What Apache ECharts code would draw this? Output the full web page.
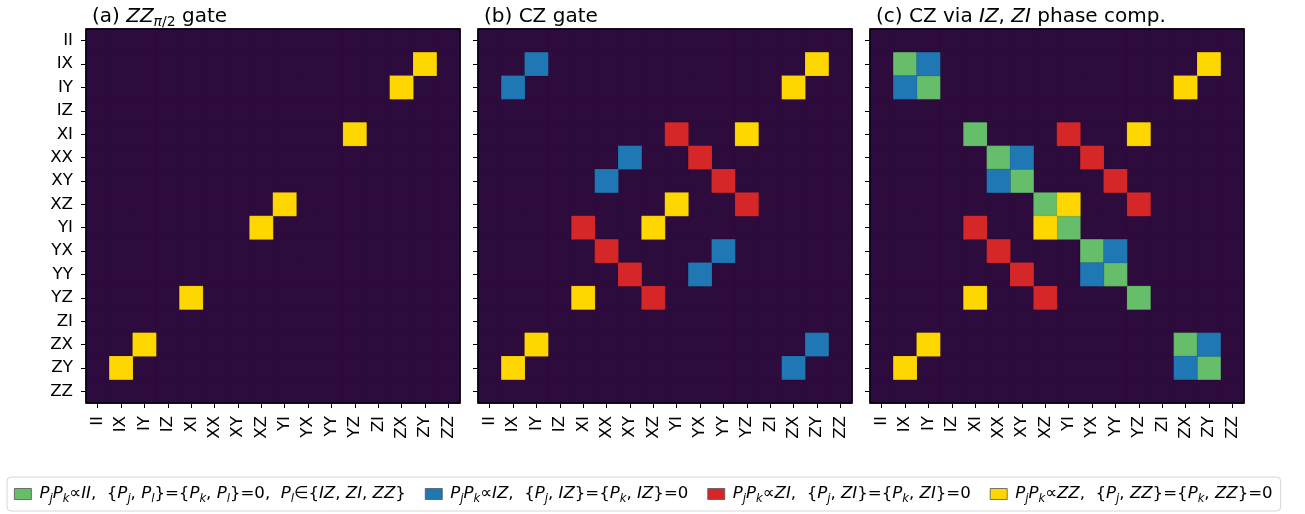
<!DOCTYPE html>
<html>
<head>
<meta charset="utf-8">
<title>Pauli transfer structure</title>
<script src="https://cdn.jsdelivr.net/npm/echarts@6/dist/echarts.min.js"></script>
<style>
  html, body { margin: 0; padding: 0; background: #fff; }
  #chart { width: 1305px; height: 514px; }
</style>
</head>
<body>
<div id="chart"></div>
<script>
// two-qubit Pauli labels, same order on both axes
var paulis = ["II", "IX", "IY", "IZ", "XI", "XX", "XY", "XZ",
              "YI", "YX", "YY", "YZ", "ZI", "ZX", "ZY", "ZZ"];

// coloured cells, [row P_j, column P_k]
var aZZ = [["IX", "ZY"], ["IY", "ZX"], ["XI", "YZ"], ["XZ", "YI"],
           ["YI", "XZ"], ["YZ", "XI"], ["ZX", "IY"], ["ZY", "IX"]];

var bIZ = [["IX", "IY"], ["IY", "IX"], ["XX", "XY"], ["XY", "XX"],
           ["YX", "YY"], ["YY", "YX"], ["ZX", "ZY"], ["ZY", "ZX"]];
var bZI = [["XI", "YI"], ["XX", "YX"], ["XY", "YY"], ["XZ", "YZ"],
           ["YI", "XI"], ["YX", "XX"], ["YY", "XY"], ["YZ", "XZ"]];
var bZZ = [["IX", "ZY"], ["IY", "ZX"], ["XI", "YZ"], ["XZ", "YI"],
           ["YI", "XZ"], ["YZ", "XI"], ["ZX", "IY"], ["ZY", "IX"]];

var cII = [["IX", "IX"], ["IY", "IY"], ["XI", "XI"], ["XX", "XX"],
           ["XY", "XY"], ["XZ", "XZ"], ["YI", "YI"], ["YX", "YX"],
           ["YY", "YY"], ["YZ", "YZ"], ["ZX", "ZX"], ["ZY", "ZY"]];
var cIZ = [["IX", "IY"], ["IY", "IX"], ["XX", "XY"], ["XY", "XX"],
           ["YX", "YY"], ["YY", "YX"], ["ZX", "ZY"], ["ZY", "ZX"]];
var cZI = [["XI", "YI"], ["XX", "YX"], ["XY", "YY"], ["XZ", "YZ"],
           ["YI", "XI"], ["YX", "XX"], ["YY", "XY"], ["YZ", "XZ"]];
var cZZ = [["IX", "ZY"], ["IY", "ZX"], ["XI", "YZ"], ["XZ", "YI"],
           ["YI", "XZ"], ["YZ", "XI"], ["ZX", "IY"], ["ZY", "IX"]];

var panels = [
  { II: [], IZ: [], ZI: [], ZZ: aZZ },
  { II: [], IZ: bIZ, ZI: bZI, ZZ: bZZ },
  { II: cII, IZ: cIZ, ZI: cZI, ZZ: cZZ }
];

var kindColors = { II: "#66bd6a", IZ: "#1f77b4", ZI: "#d62728", ZZ: "#ffd700" };
var kinds = ["II", "IZ", "ZI", "ZZ"];
var bgColor = "#2d0b3c";
var font = "DejaVu Sans";

var legendText = {
  II: "{i|P}{s|j}{i|P}{s|k}{n|∝}{i|II}{n|,  \{}{i|P}{s|j}{n|, }{i|P}{s|l}}{n|=\{}{i|P}{s|k}{n|, }{i|P}{s|l}}{n|=0,  }{i|P}{s|l}{n|∈\{}{i|IZ}{n|, }{i|ZI}{n|, }{i|ZZ}}",
  IZ: "{i|P}{s|j}{i|P}{s|k}{n|∝}{i|IZ}{n|,  \{}{i|P}{s|j}{n|, }{i|IZ}}{n|=\{}{i|P}{s|k}{n|, }{i|IZ}}{n|=0}",
  ZI: "{i|P}{s|j}{i|P}{s|k}{n|∝}{i|ZI}{n|,  \{}{i|P}{s|j}{n|, }{i|ZI}}{n|=\{}{i|P}{s|k}{n|, }{i|ZI}}{n|=0}",
  ZZ: "{i|P}{s|j}{i|P}{s|k}{n|∝}{i|ZZ}{n|,  \{}{i|P}{s|j}{n|, }{i|ZZ}}{n|=\{}{i|P}{s|k}{n|, }{i|ZZ}}{n|=0}"
};

var titles = [
  "{n|(a) }{i|ZZ}{si|π}{s|/2}{n| gate}",
  "{n|(b) CZ gate}",
  "{n|(c) CZ via }{i|IZ}{n|, }{i|ZI}{n| phase comp.}"
];

var gridLeft = [86, 478, 870];
var gridSize = 374;
var gridTop = 29;

function idx(name) { return paulis.indexOf(name); }

var grids = [], xAxes = [], yAxes = [], series = [], titleOpts = [];

gridLeft.forEach(function (left, p) {
  grids.push({
    left: left, top: gridTop, width: gridSize, height: gridSize,
    show: true, backgroundColor: "transparent",
    borderColor: "#000", borderWidth: 1.3, z: 10
  });
  xAxes.push({
    type: "category", gridIndex: p, data: paulis, position: "bottom",
    axisLine: { show: false },
    axisTick: { show: true, alignWithLabel: true, length: 5, lineStyle: { color: "#000", width: 1 } },
    axisLabel: { interval: 0, rotate: 90, margin: 13, color: "#000", fontSize: 16.7, fontFamily: font },
    splitLine: { show: false }
  });
  yAxes.push({
    type: "category", gridIndex: p, data: paulis, inverse: true,
    axisLine: { show: false },
    axisTick: { show: true, alignWithLabel: true, length: 5, lineStyle: { color: "#000", width: 1 } },
    axisLabel: { show: p === 0, interval: 0, margin: 13, color: "#000", fontSize: 16.7, fontFamily: font },
    splitLine: { show: false }
  });

  // every cell of the 16x16 map starts at zero
  var bg = [];
  for (var r = 0; r < 16; r++) {
    for (var c = 0; c < 16; c++) bg.push([c, r, 0]);
  }
  series.push({
    name: "none", type: "heatmap", xAxisIndex: p, yAxisIndex: p,
    data: bg, itemStyle: { color: bgColor, borderColor: bgColor, borderWidth: 1 }, silent: true
  });
  kinds.forEach(function (k) {
    series.push({
      name: k, type: "heatmap", xAxisIndex: p, yAxisIndex: p,
      data: panels[p][k].map(function (pair) { return [idx(pair[1]), idx(pair[0]), 1]; }),
      itemStyle: { color: kindColors[k], borderColor: "rgba(0,0,0,0.18)", borderWidth: 0.6 },
      silent: true
    });
  });

  titleOpts.push({
    text: titles[p], left: left + 1, top: 0,
    textStyle: {
      fontSize: 20, fontFamily: font, fontWeight: "normal", color: "#000",
      rich: {
        n: { fontSize: 20, fontFamily: font, color: "#000", lineHeight: 24 },
        i: { fontSize: 20, fontFamily: font, fontStyle: "italic", color: "#000", lineHeight: 24 },
        s: { fontSize: 14, fontFamily: font, color: "#000", lineHeight: 14, padding: [10, 0, 0, 0] },
        si: { fontSize: 14, fontFamily: font, fontStyle: "italic", color: "#000", lineHeight: 14, padding: [10, 0, 0, 0] }
      }
    }
  });
});

var chart = echarts.init(document.getElementById("chart"), null, { renderer: "canvas" });
chart.setOption({
  animation: false,
  backgroundColor: "#fff",
  title: titleOpts,
  grid: grids,
  xAxis: xAxes,
  yAxis: yAxes,
  legend: {
    data: kinds,
    left: 7, top: 477,
    orient: "horizontal",
    icon: "rect", itemWidth: 17, itemHeight: 11, itemGap: 19,
    itemStyle: { borderColor: "#555", borderWidth: 0.8 },
    backgroundColor: "#fff",
    borderColor: "#d6d6d6", borderWidth: 1, borderRadius: 4,
    padding: [6, 8, 6, 7],
    selectedMode: false,
    formatter: function (name) { return legendText[name]; },
    textStyle: {
      fontSize: 16.6, fontFamily: font, color: "#000", lineHeight: 20, padding: [0, 0, 0, 3],
      rich: {
        n: { fontSize: 16.6, fontFamily: font, color: "#000", lineHeight: 20 },
        i: { fontSize: 16.6, fontFamily: font, fontStyle: "italic", color: "#000", lineHeight: 20 },
        s: { fontSize: 11.6, fontFamily: font, fontStyle: "italic", color: "#000", lineHeight: 12, padding: [10, 0, 0, 0] }
      }
    }
  },
  series: series
});
</script>
</body>
</html>
